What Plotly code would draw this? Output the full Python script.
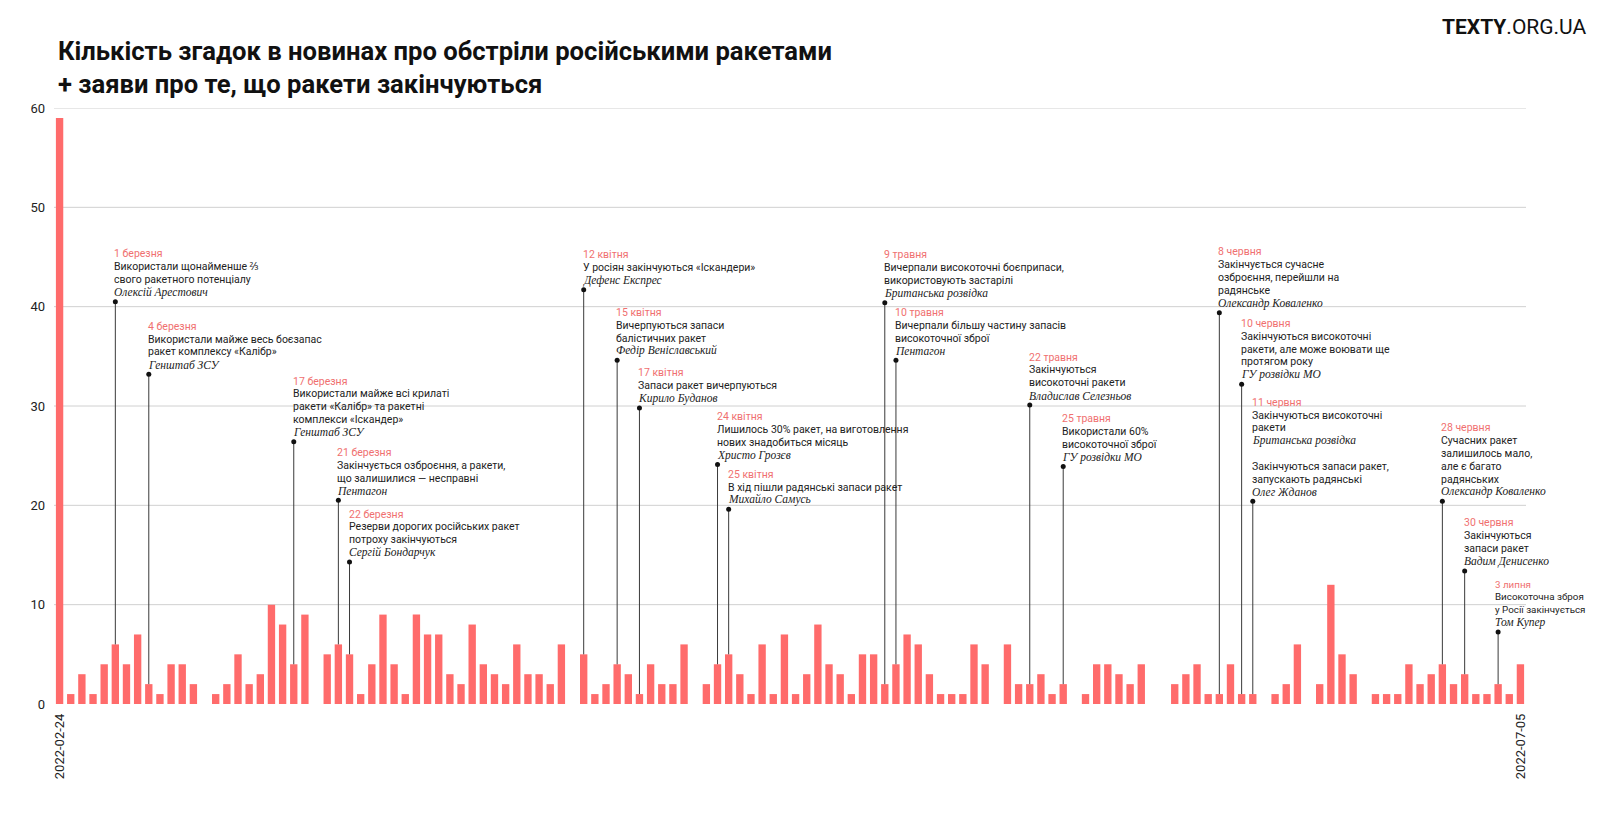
import pandas as pd
import plotly.graph_objects as go

# ---- data ----
start_date = "2022-02-24"
end_date = "2022-07-05"
dates = pd.date_range(start_date, end_date, freq="D").strftime("%Y-%m-%d").tolist()

feb_values = [59, 1, 3, 1, 4]
mar_values = [6, 4, 7, 2, 1, 4, 4, 2, 0, 1, 2, 5, 2, 3, 10, 8, 4, 9, 0, 5, 6, 5, 1, 4, 9, 4, 1, 9, 7, 7, 3]
apr_values = [2, 8, 4, 3, 2, 6, 3, 3, 2, 6, 0, 5, 1, 2, 4, 3, 1, 4, 2, 2, 6, 0, 2, 4, 5, 3, 1, 6, 1, 7]
may_values = [1, 3, 8, 4, 3, 1, 5, 5, 2, 4, 7, 6, 3, 1, 1, 1, 6, 4, 0, 6, 2, 2, 3, 1, 2, 0, 1, 4, 4, 3, 2]
jun_values = [4, 0, 0, 2, 3, 4, 1, 1, 4, 1, 1, 0, 1, 2, 6, 0, 2, 12, 5, 3, 0, 1, 1, 1, 4, 2, 3, 4, 2, 3]
jul_values = [1, 1, 2, 1, 4]
values = feb_values + mar_values + apr_values + may_values + jun_values + jul_values

y_ticks = [0, 10, 20, 30, 40, 50, 60]
x_tick_labels = [start_date, end_date]

title_lines = ["Кількість згадок в новинах про обстріли російськими ракетами",
               "+ заяви про те, що ракети закінчуються"]

# statements: date, marker level (y value of the dot), label, lines ('q' quote / 's' source / '' blank)
ann_dates = ["2022-03-01", "2022-03-04", "2022-03-17", "2022-03-21", "2022-03-22",
             "2022-04-12", "2022-04-15", "2022-04-17", "2022-04-24", "2022-04-25",
             "2022-05-09", "2022-05-10", "2022-05-22", "2022-05-25",
             "2022-06-08", "2022-06-10", "2022-06-11", "2022-06-28", "2022-06-30", "2022-07-03"]
ann_levels = [40.5, 33.2, 26.4, 20.5, 14.3,
              41.7, 34.6, 29.8, 24.1, 19.6,
              40.4, 34.6, 30.1, 23.9,
              39.4, 32.2, 20.4, 20.4, 13.4, 7.25]
ann_labels = ["1 березня", "4 березня", "17 березня", "21 березня", "22 березня",
              "12 квітня", "15 квітня", "17 квітня", "24 квітня", "25 квітня",
              "9 травня", "10 травня", "22 травня", "25 травня",
              "8 червня", "10 червня", "11 червня", "28 червня", "30 червня", "3 липня"]
ann_lines = [
    [("q", "Використали щонайменше ⅔"), ("q", "свого ракетного потенціалу"), ("s", "Олексій Арестович")],
    [("q", "Використали майже весь боєзапас"), ("q", "ракет комплексу «Калібр»"), ("s", "Генштаб ЗСУ")],
    [("q", "Використали майже всі крилаті"), ("q", "ракети «Калібр» та ракетні"), ("q", "комплекси «Іскандер»"), ("s", "Генштаб ЗСУ")],
    [("q", "Закінчується озброєння, а ракети,"), ("q", "що залишилися — несправні"), ("s", "Пентагон")],
    [("q", "Резерви дорогих російських ракет"), ("q", "потроху закінчуються"), ("s", "Сергій Бондарчук")],
    [("q", "У росіян закінчуються «Іскандери»"), ("s", "Дефенс Експрес")],
    [("q", "Вичерпуються запаси"), ("q", "балістичних ракет"), ("s", "Федір Веніславський")],
    [("q", "Запаси ракет вичерпуються"), ("s", "Кирило Буданов")],
    [("q", "Лишилось 30% ракет, на виготовлення"), ("q", "нових знадобиться місяць"), ("s", "Христо Грозєв")],
    [("q", "В хід пішли радянські запаси ракет"), ("s", "Михайло Самусь")],
    [("q", "Вичерпали високоточні боєприпаси,"), ("q", "використовують застарілі"), ("s", "Британська розвідка")],
    [("q", "Вичерпали більшу частину запасів"), ("q", "високоточної зброї"), ("s", "Пентагон")],
    [("q", "Закінчуються"), ("q", "високоточні ракети"), ("s", "Владислав Селезньов")],
    [("q", "Використали 60%"), ("q", "високоточної зброї"), ("s", "ГУ розвідки МО")],
    [("q", "Закінчується сучасне"), ("q", "озброєння, перейшли на"), ("q", "радянське"), ("s", "Олександр Коваленко")],
    [("q", "Закінчуються високоточні"), ("q", "ракети, але може воювати ще"), ("q", "протягом року"), ("s", "ГУ розвідки МО")],
    [("q", "Закінчуються високоточні"), ("q", "ракети"), ("s", "Британська розвідка"), ("", ""),
     ("q", "Закінчуються запаси ракет,"), ("q", "запускають радянські"), ("s", "Олег Жданов")],
    [("q", "Сучасних ракет"), ("q", "залишилось мало,"), ("q", "але є багато"), ("q", "радянських"), ("s", "Олександр Коваленко")],
    [("q", "Закінчуються"), ("q", "запаси ракет"), ("s", "Вадим Денисенко")],
    [("q", "Високоточна зброя"), ("q", "у Росії закінчується"), ("s", "Том Купер")],
]

# ---- styles ----
BAR_COLOR = "#ff6b6b"
DATE_COLOR = "#f07070"
TEXT_COLOR = "#222222"
SANS = "Roboto, 'Noto Sans', sans-serif"
SERIF = "'Liberation Serif', 'DejaVu Serif', serif"
LINE_H = 12.8
BOTTOM_OFF = 9.5
BODY_SIZE = 10.5
SOURCE_SIZE = 11.5
EDGE_DATE = "2022-07-03"   # last note runs into the right page edge: set a bit tighter

value_by_date = dict(zip(dates, values))

fig = go.Figure()
fig.add_trace(go.Bar(x=dates, y=values, marker=dict(color=BAR_COLOR, line=dict(width=0)),
                     hoverinfo="x+y"))

# connector lines
lx, ly = [], []
for d, lv in zip(ann_dates, ann_levels):
    lx += [d, d, None]
    ly += [value_by_date[d], lv, None]
fig.add_trace(go.Scatter(x=lx, y=ly, mode="lines", line=dict(color="#3a3a3a", width=1),
                         hoverinfo="skip"))
fig.add_trace(go.Scatter(x=ann_dates, y=ann_levels, mode="markers",
                         marker=dict(color="#111111", size=5), hoverinfo="skip"))

annotations = []
for d, lv, lab, lines in zip(ann_dates, ann_levels, ann_labels, ann_lines):
    all_lines = [("d", lab)] + lines
    n = len(all_lines)
    tight = d == EDGE_DATE
    bsize = 9.8 if tight else BODY_SIZE
    xs = -5 if tight else -3
    for i, (kind, txt) in enumerate(all_lines):
        if not txt:
            continue
        k = n - 1 - i
        if kind == "d":
            font = dict(family=SANS, size=bsize, color=DATE_COLOR)
        elif kind == "s":
            font = dict(family=SERIF, size=SOURCE_SIZE, color=TEXT_COLOR)
            txt = "<i>" + txt + "</i>"
        else:
            font = dict(family=SANS, size=bsize, color=TEXT_COLOR)
        annotations.append(dict(x=d, y=lv, xref="x", yref="y", text=txt, showarrow=False,
                                xanchor="left", yanchor="middle", xshift=xs,
                                yshift=BOTTOM_OFF + LINE_H * k, font=font, align="left"))

# figure geometry (page is offset by the 8px body margin)
W, H = 1584, 807
L, R, T, B = 46, 66, 100, 111
pw, ph = W - L - R, H - T - B

def px_to_paper(xp, yp):
    return (xp - L) / pw, (H - B - yp) / ph

tx, ty1 = px_to_paper(48, 43)
_, ty2 = px_to_paper(48, 76)
lgx, lgy = px_to_paper(1581, 19)
annotations.append(dict(x=tx, y=ty1, xref="paper", yref="paper", text="<b>" + title_lines[0] + "</b>",
                        showarrow=False, xanchor="left", yanchor="middle",
                        font=dict(family=SANS, size=25.6, color="#111")))
annotations.append(dict(x=tx, y=ty2, xref="paper", yref="paper", text="<b>" + title_lines[1] + "</b>",
                        showarrow=False, xanchor="left", yanchor="middle",
                        font=dict(family=SANS, size=25.6, color="#111")))
annotations.append(dict(x=lgx, y=lgy, xref="paper", yref="paper", text="<b>TEXTY</b>.ORG.UA",
                        showarrow=False, xanchor="right", yanchor="middle",
                        font=dict(family=SANS, size=21, color="#111")))

# gridlines (no line at zero)
shapes = [dict(type="line", xref="paper", yref="y", x0=0, x1=1, y0=v, y1=v,
               line=dict(color="#d0d0d0", width=1), layer="below") for v in y_ticks[1:]]

fig.update_layout(
    width=W, height=H,
    margin=dict(l=L, r=R, t=T, b=B, autoexpand=False),
    plot_bgcolor="white", paper_bgcolor="white",
    showlegend=False, bargap=0.34,
    annotations=annotations, shapes=shapes,
    xaxis=dict(type="date", range=["2022-02-23 12:00", "2022-07-05 12:00"],
               tickvals=x_tick_labels, ticktext=x_tick_labels, tickangle=-90,
               showgrid=False, zeroline=False, showline=False, ticks="",
               tickfont=dict(family=SANS, size=13, color="#222"), ticklabelstandoff=6),
    yaxis=dict(range=[0, 60], tickvals=y_ticks, showgrid=False, zeroline=False,
               showline=False, ticks="", ticklabelstandoff=8,
               tickfont=dict(family=SANS, size=13, color="#222")),
)

fig.write_html("out.html")
